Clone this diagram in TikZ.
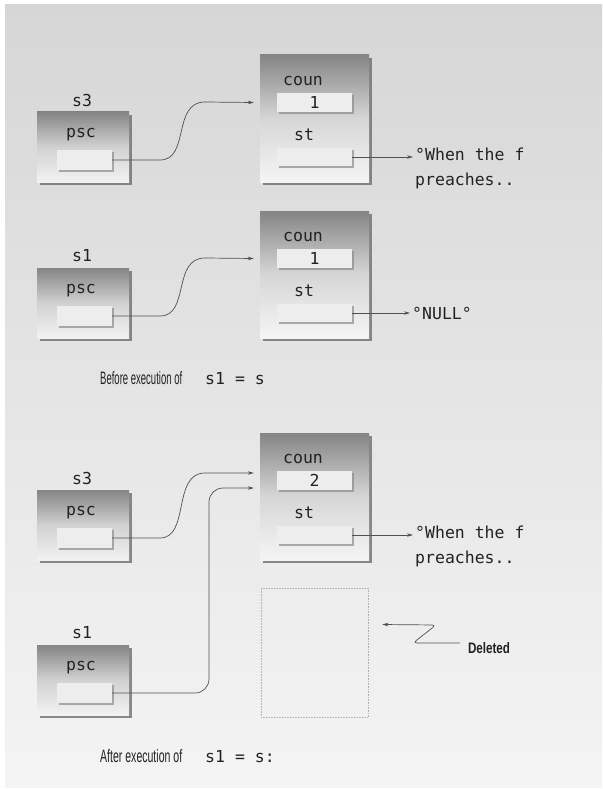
\documentclass[tikz,border=0pt]{standalone}
\usepackage{fontspec}
\setmonofont{DejaVu Sans Mono}
\setsansfont{Liberation Sans}
\usetikzlibrary{shadows,arrows.meta}
\definecolor{bgtop}{HTML}{D6D6D6}
\definecolor{bgbot}{HTML}{F4F4F4}
\definecolor{ink}{HTML}{222222}
\definecolor{wirec}{HTML}{505050}
\tikzset{
 sbox/.style={rectangle, inner sep=0pt, minimum width=92pt, minimum height=70pt,
   top color=black!48, bottom color=black!5, middle color=black!18,
   drop shadow={shadow xshift=3pt,shadow yshift=-3pt,fill=black!60,opacity=.75}},
 cbox/.style={rectangle, inner sep=0pt, minimum width=109pt, minimum height=127pt,
   top color=black!48, bottom color=black!4, middle color=black!16,
   drop shadow={shadow xshift=3pt,shadow yshift=-3pt,fill=black!60,opacity=.75}},
 field/.style={rectangle, inner sep=0pt, fill=black!7,
   drop shadow={shadow xshift=2pt,shadow yshift=-2pt,fill=black!45,opacity=.7}},
 mono/.style={font=\fontsize{16.5}{25}\selectfont\ttfamily, text=ink, inner sep=0pt},
 wire/.style={draw=wirec, line width=0.7pt},
 arr/.style={wire, -{Stealth[length=6pt,width=3.5pt]}},
 deadbox/.style={rectangle, inner sep=0pt, minimum width=107pt, minimum height=129pt,
   draw=black!30, densely dotted, line width=0.6pt},
 caption/.style={inner sep=0pt, text=ink, anchor=base west}
}
\begin{document}
\begin{tikzpicture}[x=1pt,y=-1pt]
\useasboundingbox (0,0) rectangle (602,789);
\fill[white] (0,0) rectangle (602,789);
\shade[top color=bgtop,bottom color=bgbot] (5,5) rectangle (602,787);

% ---------- section 1 ----------
\node[mono] (lab1) at (82,100) {s3};
\node[sbox] (sb1) at (83,147) {};
\node[mono] (ps1) at (81,135) {psc};
\node[field, minimum width=55pt, minimum height=20pt] (pf1) at (84.5,160) {};
\node[cbox] (cb1) at (314.5,118.5) {};
\node[mono] (cn1) at (303,81) {coun};
\node[field, mono, minimum width=75pt, minimum height=19pt] (cv1) at (314.5,102.5) {1};
\node[mono] (st1) at (304,135) {st};
\node[field, minimum width=75pt, minimum height=18pt] (sf1) at (314.5,157) {};
\node[mono, anchor=north west, align=left] (tx1) at (415,148) {°When the f\\preaches..};
\path (cb1.west |- cv1.center) ++(-6,0) coordinate (in1);
\draw[arr] (pf1.east) -- (160,160) .. controls (190,160) and (172,102) .. (205,102) -- (in1);
\draw[arr] (sf1.east) -- ([xshift=-2pt]tx1.west |- sf1.east);

% ---------- section 2 ----------
\begin{scope}[yshift=-156pt]
\node[mono] (lab2) at (82,100) {s1};
\node[sbox] (sb2) at (83,147) {};
\node[mono] (ps2) at (81,135) {psc};
\node[field, minimum width=55pt, minimum height=20pt] (pf2) at (84.5,160) {};
\node[cbox] (cb2) at (314.5,118.5) {};
\node[mono] (cn2) at (303,81) {coun};
\node[field, mono, minimum width=75pt, minimum height=19pt] (cv2) at (314.5,102.5) {1};
\node[mono] (st2) at (304,135) {st};
\node[field, minimum width=75pt, minimum height=18pt] (sf2) at (314.5,157) {};
\node[mono, anchor=west] (tx2) at (412,157) {°NULL°};
\path (cb2.west |- cv2.center) ++(-6,0) coordinate (in2);
\draw[arr] (pf2.east) -- (160,160) .. controls (190,160) and (172,102) .. (205,102) -- (in2);
\draw[arr] (sf2.east) -- ([xshift=-2pt]tx2.west |- sf2.east);
\node[caption] (cap1) at (100,228) {\resizebox{82pt}{13pt}{\sffamily Before execution of}\hspace{23pt}{\fontsize{16.5}{20}\selectfont\ttfamily s1 = s}};
\end{scope}

% ---------- section 3 ----------
\begin{scope}[yshift=-378pt]
\node[mono] (lab3) at (82,100) {s3};
\node[sbox] (sb3) at (83,147) {};
\node[mono] (ps3) at (81,135) {psc};
\node[field, minimum width=55pt, minimum height=20pt] (pf3) at (84.5,160) {};
\node[cbox] (cb3) at (314.5,118.5) {};
\node[mono] (cn3) at (303,81) {coun};
\node[field, mono, minimum width=75pt, minimum height=19pt] (cv3) at (314.5,102.5) {2};
\node[mono] (st3) at (304,135) {st};
\node[field, minimum width=75pt, minimum height=18pt] (sf3) at (314.5,157) {};
\node[mono, anchor=north west, align=left] (tx3) at (415,148) {°When the f\\preaches..};
\path (cb3.west |- cv3.center) ++(-6,-7.5) coordinate (in3a);
\path (cb3.west |- cv3.center) ++(-6,7.5) coordinate (in3b);
\draw[arr] (pf3.east) -- (160,160) .. controls (190,160) and (172,95) .. (205,95) -- (in3a);
\draw[arr] (sf3.east) -- ([xshift=-2pt]tx3.west |- sf3.east);
\end{scope}

% ---------- section 4 ----------
\begin{scope}[yshift=-533pt]
\node[mono] (lab4) at (82,100) {s1};
\node[sbox] (sb4) at (83,147) {};
\node[mono] (ps4) at (81,135) {psc};
\node[field, minimum width=55pt, minimum height=20pt] (pf4) at (84.5,160) {};
\node[caption] (cap2) at (100,229) {\resizebox{82pt}{13pt}{\sffamily After execution of}\hspace{23pt}{\fontsize{16.5}{20}\selectfont\ttfamily s1 = s:}};
\end{scope}
\draw[arr, rounded corners=14pt] (pf4.east) -- (209,693) -- (209,488) -- (in3b);

\node[deadbox] (dead) at (314.5,652.5) {};
\node[inner sep=0pt, text=ink] (del) at (489,648) {\resizebox{42pt}{11pt}{\sffamily\bfseries Deleted}};
\draw[arr, rounded corners=4pt] ([xshift=-8pt,yshift=5pt]del.west) -- (413,643) -- (436,625) -- ([xshift=14pt,yshift=28pt]dead.east);
\end{tikzpicture}
\end{document}
